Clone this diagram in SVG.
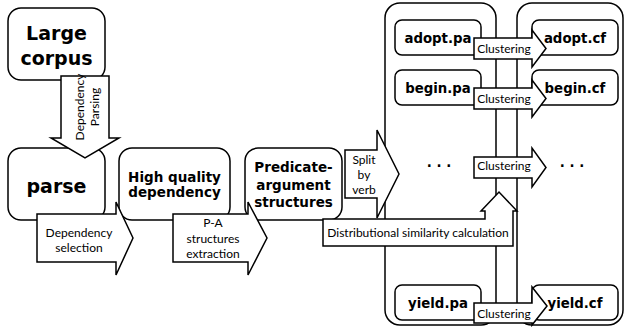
<svg xmlns="http://www.w3.org/2000/svg" width="625" height="336" viewBox="0 0 625 336">
<style>
.box{fill:#fff;stroke:#000;stroke-width:1.5}
.arr{fill:#fff;stroke:#000;stroke-width:1.5;stroke-linejoin:miter}
.big{font-family:"DejaVu Sans",sans-serif;font-weight:bold;font-size:19px;text-anchor:middle;fill:#000}
.mid{font-family:"DejaVu Sans",sans-serif;font-weight:bold;font-size:13.5px;text-anchor:middle;fill:#000}
.sm{font-family:"DejaVu Sans",sans-serif;font-weight:bold;font-size:13.3px;text-anchor:middle;fill:#000}
.lbl{font-family:Lato,"Open Sans",sans-serif;font-size:12px;text-anchor:middle;fill:#000}
</style>
<rect width="625" height="336" fill="#fff"/>
<g id="container-pa"><rect class="box" x="385" y="3" width="111" height="322" rx="15"/></g>
<g id="container-cf"><rect class="box" x="517" y="3" width="106" height="322" rx="15"/></g>
<g id="large-corpus"><rect class="box" x="8" y="8" width="97" height="72" rx="13"/><text class="big" x="56.5" y="40">Large</text><text class="big" x="56.5" y="65">corpus</text></g>
<g id="parse"><rect class="box" x="8" y="148" width="97" height="72" rx="13"/><text class="big" x="56.5" y="193">parse</text></g>
<g id="high-quality"><rect class="box" x="119" y="148" width="111" height="72" rx="13"/><text class="mid" x="174.5" y="182">High quality</text><text class="mid" x="174.5" y="197">dependency</text></g>
<g id="pred-arg"><rect class="box" x="245" y="148" width="97" height="72" rx="13"/><text class="mid" x="293.5" y="172">Predicate-</text><text class="mid" x="293.5" y="189.5">argument</text><text class="mid" x="293.5" y="207">structures</text></g>
<g id="adopt-pa"><rect class="box" x="395" y="20" width="86" height="35" rx="7"/><text class="sm" x="438" y="43">adopt.pa</text></g>
<g id="begin-pa"><rect class="box" x="395" y="70" width="86" height="35" rx="7"/><text class="sm" x="438" y="93">begin.pa</text></g>
<g id="yield-pa"><rect class="box" x="395" y="285" width="86" height="35" rx="7"/><text class="sm" x="438" y="308">yield.pa</text></g>
<g id="adopt-cf"><rect class="box" x="532" y="20" width="86" height="35" rx="7"/><text class="sm" x="575" y="43">adopt.cf</text></g>
<g id="begin-cf"><rect class="box" x="532" y="70" width="86" height="35" rx="7"/><text class="sm" x="575" y="93">begin.cf</text></g>
<g id="yield-cf"><rect class="box" x="532" y="285" width="86" height="35" rx="7"/><text class="sm" x="575" y="308">yield.cf</text></g>
<g id="dots-pa"><text class="sm" x="439" y="167">. . .</text></g>
<g id="dots-cf"><text class="sm" x="572" y="167">. . .</text></g>
<g id="connectors">
<path class="arr" d="M61,76 V138 H51 L85,158 L119,138 H109 V76 Z"/>
<g transform="translate(84,107) rotate(-90)"><text class="lbl" x="0" y="0">Dependency</text><text class="lbl" x="0" y="15">Parsing</text></g>
<path class="arr" d="M37,214 H116 V202 L133,238 L116,275 V262 H37 Z"/>
<text class="lbl" x="79" y="237">Dependency</text><text class="lbl" x="79" y="251.5">selection</text>
<path class="arr" d="M173,214 H248 V202 L267,238 L248,275 V262 H173 Z"/>
<text class="lbl" x="213" y="227">P-A</text><text class="lbl" x="213" y="242.5">structures</text><text class="lbl" x="213" y="258">extraction</text>
<path class="arr" d="M345,150 H377 V130 L399,174 L377,218 V198 H345 Z"/>
<text class="lbl" x="364" y="164">Split</text><text class="lbl" x="364" y="179">by</text><text class="lbl" x="364" y="194">verb</text>
<path class="arr" d="M474,38 H532 V30 L546,48.5 L532,67 V59 H474 Z"/>
<text class="lbl" x="504" y="53">Clustering</text>
<path class="arr" d="M474,88 H532 V80 L546,98.5 L532,117 V109 H474 Z"/>
<text class="lbl" x="504" y="103">Clustering</text>
<path class="arr" d="M474,157 H532 V148 L546,167.5 L532,187 V178 H474 Z"/>
<text class="lbl" x="504" y="170">Clustering</text>
<path class="arr" d="M474,303 H532 V287 L547,306 L532,325 V323 H474 Z"/>
<text class="lbl" x="504" y="318">Clustering</text>
<path class="arr" d="M323,219 H485 V211 H481 L499,192 L517,211 H513 V246 H323 Z"/>
<text class="lbl" x="418" y="236.5">Distributional similarity calculation</text>
</g>
</svg>
